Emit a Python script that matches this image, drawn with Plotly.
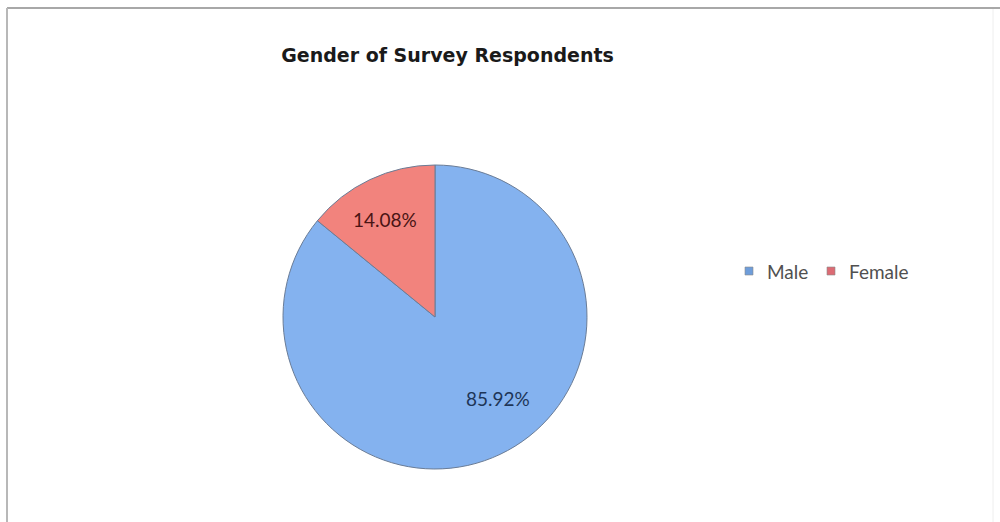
import plotly.graph_objects as go

# Survey respondents by gender (percent of total)
genders = ["Male", "Female"]
shares = [85.92, 14.08]
slice_colors = ["#84B2EF", "#F2837D"]
key_colors = ["#6E9DDA", "#DC6B74"]
label_colors = ["#1E3658", "#4A1414"]

W, H = 1000, 522
cx, cy, r = 435, 317, 152

# pixel anchors (from top-left) for the value labels and the legend keys
label_xy = {"Male": (498, 398), "Female": (385, 219)}
legend_key_x = {"Male": 745, "Female": 827}
legend_y = 271
key_size = 8
text_gap = 12

fig = go.Figure(
    go.Pie(
        labels=genders,
        values=shares,
        sort=False,
        direction="clockwise",
        rotation=0,
        marker=dict(colors=slice_colors, line=dict(color="#6A7C96", width=1)),
        textinfo="none",
        hoverinfo="label+percent",
        showlegend=False,
        domain=dict(
            x=[(cx - r) / W, (cx + r) / W],
            y=[1 - (cy + r) / H, 1 - (cy - r) / H],
        ),
    )
)

annotations = []
shapes = []
for g, v, c in zip(genders, shares, label_colors):
    px, py = label_xy[g]
    annotations.append(
        dict(
            x=px / W, y=1 - py / H, xref="paper", yref="paper",
            text=f"{v:.2f}%", showarrow=False,
            xanchor="center", yanchor="middle",
            font=dict(family="Lato, 'Open Sans', sans-serif", size=19, color=c),
        )
    )

# legend: a small coloured key followed by the category name
for g, kc in zip(genders, key_colors):
    kx = legend_key_x[g]
    shapes.append(
        dict(
            type="rect", xref="paper", yref="paper",
            x0=kx / W, x1=(kx + key_size) / W,
            y0=1 - (legend_y + key_size / 2) / H, y1=1 - (legend_y - key_size / 2) / H,
            fillcolor=kc, line=dict(color="#8a8a8a", width=0.6),
        )
    )
    annotations.append(
        dict(
            x=(kx + key_size + text_gap) / W, y=1 - legend_y / H, xref="paper", yref="paper",
            text=g, showarrow=False, xanchor="left", yanchor="middle",
            font=dict(family="Lato, 'Open Sans', sans-serif", size=19, color="#505050"),
        )
    )

# chart area frame (top, left, right edges)
shapes += [
    dict(type="line", xref="paper", yref="paper", x0=7 / W, x1=1, y0=1 - 8 / H, y1=1 - 8 / H,
         line=dict(color="#a8a8a8", width=2)),
    dict(type="line", xref="paper", yref="paper", x0=7 / W, x1=7 / W, y0=0, y1=1 - 8 / H,
         line=dict(color="#b8b8b8", width=2)),
    dict(type="line", xref="paper", yref="paper", x0=993 / W, x1=993 / W, y0=0, y1=1 - 9 / H,
         line=dict(color="#eeeeee", width=1)),
]

fig.update_layout(
    width=W,
    height=H,
    margin=dict(l=0, r=0, t=0, b=0),
    paper_bgcolor="white",
    plot_bgcolor="white",
    title=dict(
        text="<b>Gender of Survey Respondents</b>",
        x=447.5 / W,
        xanchor="center",
        y=1 - 55 / H,
        yanchor="middle",
        font=dict(family="DejaVu Sans, sans-serif", size=19, color="#1a1a1a"),
    ),
    showlegend=False,
    annotations=annotations,
    shapes=shapes,
)

fig.write_html("out.html")
